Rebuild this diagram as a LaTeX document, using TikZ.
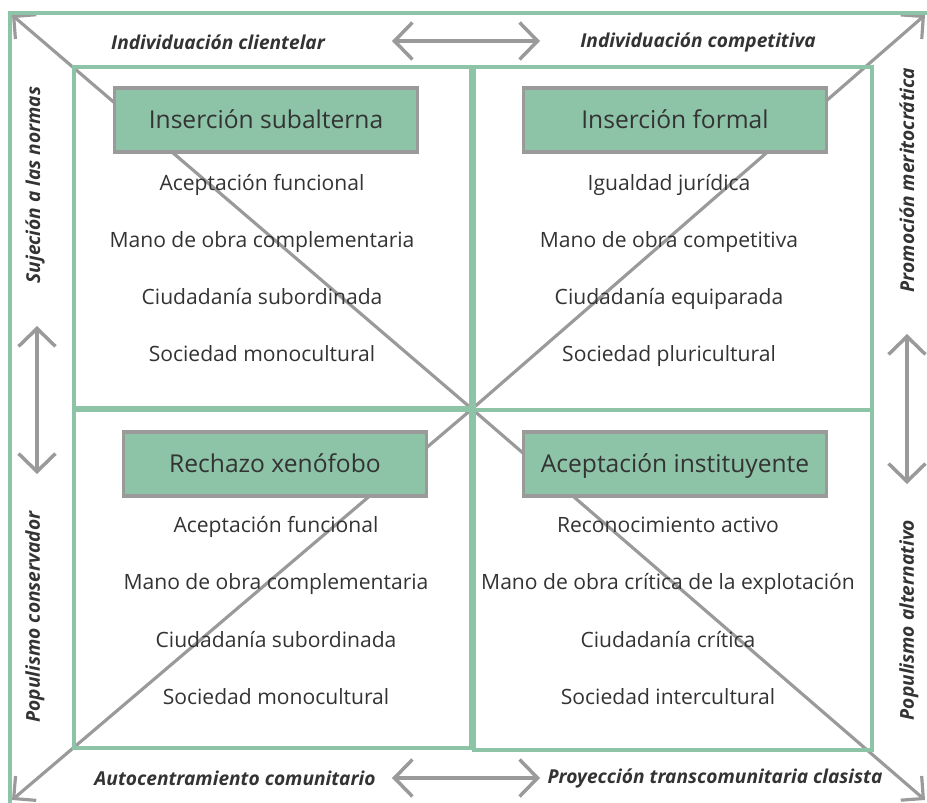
\documentclass[tikz,border=0pt]{standalone}
\usepackage{fontspec}
\setmainfont{Open Sans}
\usepackage{xcolor}
\usetikzlibrary{arrows.meta, positioning}
\definecolor{mygreen}{HTML}{8DC3A7}
\definecolor{mygray}{HTML}{9A9A9A}
\definecolor{mytext}{HTML}{333333}

\begin{document}
\begin{tikzpicture}[x=0.02cm, y=-0.02cm,
  frame/.style={draw=mygreen, line width=2.2pt},
  head/.style={draw=mygray, fill=mygreen, line width=2pt, minimum width=6.06cm,
               minimum height=1.28cm, text height=1em, text depth=0pt,
               font=\fontsize{14}{17}\selectfont, text=mytext},
  item/.style={font=\fontsize{12}{14}\selectfont, text=mytext, inner sep=1pt,
               text height=0.714em, text depth=0pt},
  side/.style={font=\fontsize{10.9}{13}\selectfont\bfseries\itshape, text=mytext, inner sep=1pt},
  diag/.style={-{Straight Barb[length=3.2mm, width=6.4mm, line width=1.8pt]}, mygray, line width=1.8pt},
  dbl/.style={{Straight Barb[length=3.6mm, width=7.4mm, line width=2pt]}-{Straight Barb[length=3.6mm, width=7.4mm, line width=2pt]}, mygray, line width=2pt}
]
\useasboundingbox (0,0) rectangle (927,803);

% centre and corners
\coordinate (c) at (472,409);
\coordinate (nw) at (12,15);
\coordinate (ne) at (925,15);
\coordinate (sw) at (12,800);
\coordinate (se) at (925,800);
\draw[diag] (c) -- (nw);
\draw[diag] (c) -- (ne);
\draw[diag] (c) -- (sw);
\draw[diag] (c) -- (se);

% frames
\draw[frame] (10,803) -- (10,13) -- (927,13);
\draw[frame] (74,67) rectangle (471,408);
\draw[frame] (474,67) rectangle (872,410);
\draw[frame] (74,410) rectangle (471,748);
\draw[frame] (474,410) rectangle (872,750);

% quadrants
\node[head] (hTL) at (266,120) {Inserción subalterna};
\node[head] (hTR) at (675,120) {Inserción formal};
\node[head] (hBL) at (275,464) {Rechazo xenófobo};
\node[head] (hBR) at (675,464) {Aceptación instituyente};

\foreach \t [count=\i] in {Aceptación funcional, Mano de obra complementaria,
    Ciudadanía subordinada, Sociedad monocultural}
  \node[item] (tl\i) at (262,127+57*\i) {\t};
\foreach \t [count=\i] in {Igualdad jurídica, Mano de obra competitiva,
    Ciudadanía equiparada, Sociedad pluricultural}
  \node[item] (tr\i) at (669,127+57*\i) {\t};
\foreach \t [count=\i] in {Aceptación funcional, Mano de obra complementaria,
    Ciudadanía subordinada, Sociedad monocultural}
  \node[item] (bl\i) at (276,469+57.3*\i) {\t};
\foreach \t [count=\i] in {Reconocimiento activo, Mano de obra crítica de la explotación,
    Ciudadanía crítica, Sociedad intercultural}
  \node[item] (br\i) at (668,469+57.3*\i) {\t};

% axes
\node[side] (ic) at (218,42) {Individuación clientelar};
\node[side] (icomp) at (698,42) {Individuación competitiva};
\node[side] (ac) at (235,778) {Autocentramiento comunitario};
\node[side] (pt) at (715,778) {Proyección transcomunitaria clasista};
\node[side, rotate=90] (sn) at (35,185) {Sujeción a las normas};
\node[side, rotate=90] (pc) at (35,617) {Populismo conservador};
\node[side, rotate=90] (pm) at (907,180) {Promoción meritocrática};
\node[side, rotate=90] (pa) at (909,620) {Populismo alternativo};

\coordinate (t1) at (392,41);  \coordinate (t2) at (540,41);
\coordinate (b1) at (392,778); \coordinate (b2) at (540,778);
\coordinate (l1) at (37,326);  \coordinate (l2) at (37,474);
\coordinate (r1) at (907,334); \coordinate (r2) at (907,484);
\draw[dbl] (t1) -- (t2);
\draw[dbl] (b1) -- (b2);
\draw[dbl] (l1) -- (l2);
\draw[dbl] (r1) -- (r2);
\end{tikzpicture}
\end{document}
